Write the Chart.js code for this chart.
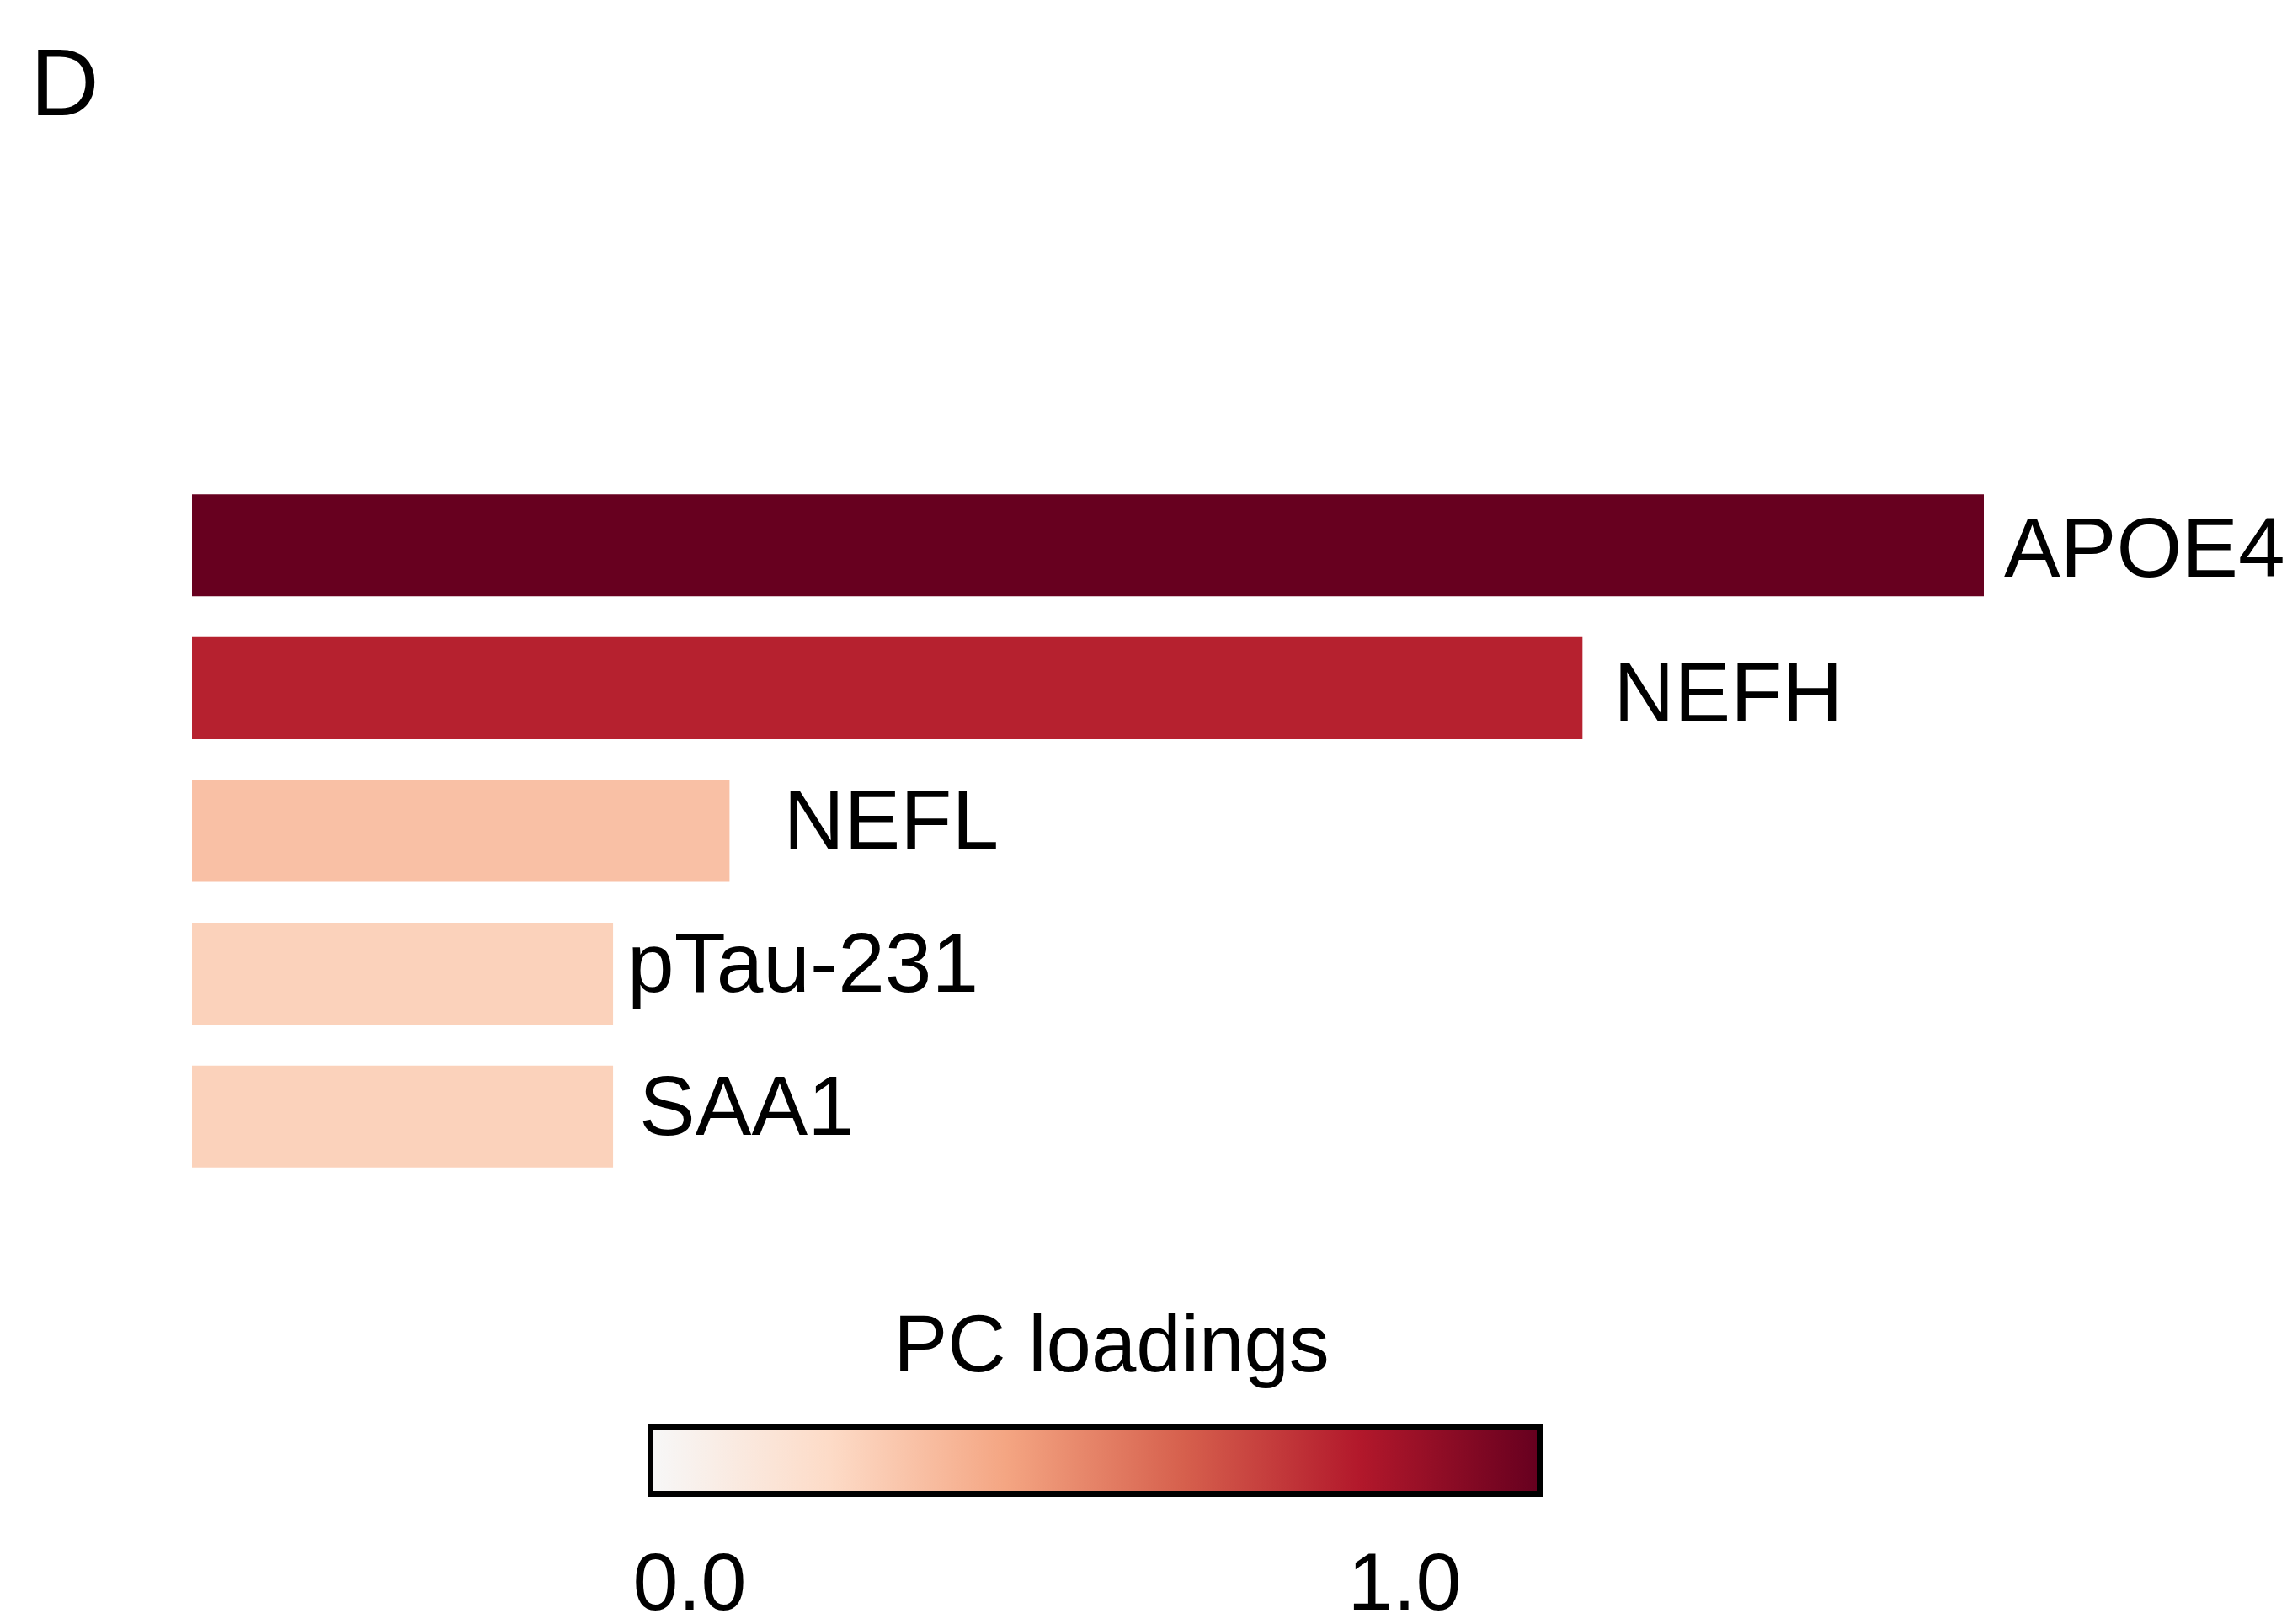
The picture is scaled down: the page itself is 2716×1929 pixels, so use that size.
<!DOCTYPE html>
<html>
<head>
<meta charset="utf-8">
<script src="https://cdn.jsdelivr.net/npm/chart.js@4"></script>
<style>
body { margin: 0; background: #fff; font-family: "Liberation Sans", Arial, sans-serif; }
#wrap { position: relative; width: 2716px; height: 1929px; overflow: hidden; }
#chart { position: absolute; left: 0; top: 0; }
.txt { position: absolute; line-height: 1; color: #000; white-space: nowrap; }
#cbar { position: absolute; left: 769px; top: 1692px; width: 1063px; height: 86px;
        box-sizing: border-box; border: 7px solid #000; }
</style>
</head>
<body>
<div id="wrap">
    <canvas id="chart" width="2716" height="1929"></canvas>
    <div class="txt" id="panel" style="left:36px; top:42px; font-size:113px;">D</div>
    <div class="txt" id="cbTitle" style="left:1320px; top:1548px; font-size:96px; transform:translateX(-50%);"></div>
    <div id="cbar"></div>
    <div class="txt" id="tick0" style="left:819px; top:1830px; font-size:97px; transform:translateX(-50%);"></div>
    <div class="txt" id="tick1" style="left:1668px; top:1830px; font-size:97px; transform:translateX(-50%);"></div>
</div>
<script>
// markers and their PC loadings (relative to APOE4)
const markers = ["APOE4", "NEFH", "NEFL", "pTau-231", "SAA1"];
const loadings = [1.0, 0.776, 0.30, 0.235, 0.235];
const colorbarTitle = "PC loadings";
const colorbarTicks = ["0.0", "1.0"];

// colour map (upper half of RdBu, reversed)
const cmapStops = [
    [0.0, "#f7f7f7"],
    [0.2, "#fddbc7"],
    [0.4, "#f4a582"],
    [0.6, "#d6604d"],
    [0.8, "#b2182b"],
    [1.0, "#67001f"]
];

// text nudges for the bar labels: [dx from bar end, dy from bar centre]
const labelNudge = [[24, 1], [37, 4], [64, -15], [17, -15], [31, -14]];

function hexToRgb(h) {
    return [1, 3, 5].map(i => parseInt(h.slice(i, i + 2), 16));
}

function cmap(t) {
    t = Math.max(0, Math.min(1, t));
    for (let i = 1; i < cmapStops.length; i++) {
        const [t1, c1] = cmapStops[i];
        const [t0, c0] = cmapStops[i - 1];
        if (t <= t1) {
            const f = (t - t0) / (t1 - t0);
            const a = hexToRgb(c0), b = hexToRgb(c1);
            const rgb = a.map((v, k) => Math.round(v + (b[k] - v) * f));
            return `rgb(${rgb.join(",")})`;
        }
    }
    return cmapStops[cmapStops.length - 1][1];
}

const maxLoading = Math.max(...loadings);
const barColors = loadings.map(v => cmap(v / maxLoading));

// colour bar legend
document.getElementById("cbTitle").textContent = colorbarTitle;
document.getElementById("tick0").textContent = colorbarTicks[0];
document.getElementById("tick1").textContent = colorbarTicks[1];
document.getElementById("cbar").style.background =
    "linear-gradient(to right, #eef2f6 0%, " +
    cmapStops.map(s => `${s[1]} ${s[0] * 100}%`).join(", ") + ")";

const barLabels = {
    id: "barLabels",
    afterDatasetsDraw(chart) {
        const ctx = chart.ctx;
        const meta = chart.getDatasetMeta(0);
        ctx.save();
        ctx.font = "100px 'Liberation Sans', Arial, sans-serif";
        ctx.fillStyle = "#000";
        ctx.textAlign = "left";
        ctx.textBaseline = "alphabetic";
        meta.data.forEach((bar, i) => {
            const [dx, dy] = labelNudge[i];
            ctx.fillText(markers[i], bar.x + dx, bar.y + 36 + dy);
        });
        ctx.restore();
    }
};

new Chart(document.getElementById("chart").getContext("2d"), {
    type: "bar",
    data: {
        labels: markers,
        datasets: [{
            data: loadings,
            backgroundColor: barColors,
            borderWidth: 0,
            barPercentage: 0.714,
            categoryPercentage: 1.0
        }]
    },
    options: {
        indexAxis: "y",
        responsive: false,
        animation: false,
        devicePixelRatio: 1,
        layout: { padding: { left: 228, right: 360, top: 563, bottom: 518 } },
        scales: {
            x: { display: false, min: 0, max: maxLoading },
            y: { display: false }
        },
        plugins: {
            legend: { display: false },
            tooltip: { enabled: false }
        }
    },
    plugins: [barLabels]
});
</script>
</body>
</html>
